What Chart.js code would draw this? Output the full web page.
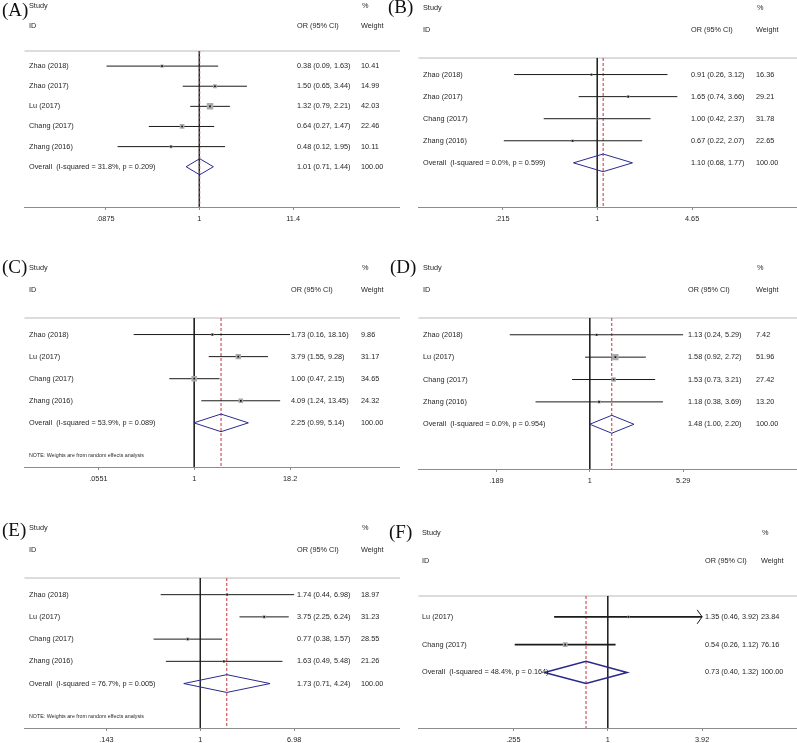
<!DOCTYPE html>
<html>
<head>
<meta charset="utf-8">
<script src="https://cdn.jsdelivr.net/npm/chart.js@4.4.0/dist/chart.umd.min.js"></script>
<style>
  body { margin: 0; background: #fff; width: 797px; height: 743px; position: relative; overflow: hidden; }
  canvas { position: absolute; }
</style>
</head>
<body>
<canvas id="panelA"></canvas>
<canvas id="panelB"></canvas>
<canvas id="panelC"></canvas>
<canvas id="panelD"></canvas>
<canvas id="panelE"></canvas>
<canvas id="panelF"></canvas>
<script>
// (A)
const studiesA = ['Zhao (2018)', 'Zhao (2017)', 'Lu (2017)', 'Chang (2017)', 'Zhang (2016)'];
const orA = [0.38, 1.50, 1.32, 0.64, 0.48];
const lowA = [0.09, 0.65, 0.79, 0.27, 0.12];
const highA = [1.63, 3.44, 2.21, 1.47, 1.95];
const weightA = [10.41, 14.99, 42.03, 22.46, 10.11];
const overallA = [1.01, 0.71, 1.44];   // OR, low, high
const hetA = [31.8, 0.209];            // I-squared, p
const ticksA = [0.0875, 1, 11.4];

// (B)
const studiesB = ['Zhao (2018)', 'Zhao (2017)', 'Chang (2017)', 'Zhang (2016)'];
const orB = [0.91, 1.65, 1.00, 0.67];
const lowB = [0.26, 0.74, 0.42, 0.22];
const highB = [3.12, 3.66, 2.37, 2.07];
const weightB = [16.36, 29.21, 31.78, 22.65];
const overallB = [1.10, 0.68, 1.77];
const hetB = [0.0, 0.599];
const ticksB = [0.215, 1, 4.65];

// (C)
const studiesC = ['Zhao (2018)', 'Lu (2017)', 'Chang (2017)', 'Zhang (2016)'];
const orC = [1.73, 3.79, 1.00, 4.09];
const lowC = [0.16, 1.55, 0.47, 1.24];
const highC = [18.16, 9.28, 2.15, 13.45];
const weightC = [9.86, 31.17, 34.65, 24.32];
const overallC = [2.25, 0.99, 5.14];
const hetC = [53.9, 0.089];
const ticksC = [0.0551, 1, 18.2];

// (D)
const studiesD = ['Zhao (2018)', 'Lu (2017)', 'Chang (2017)', 'Zhang (2016)'];
const orD = [1.13, 1.58, 1.53, 1.18];
const lowD = [0.24, 0.92, 0.73, 0.38];
const highD = [5.29, 2.72, 3.21, 3.69];
const weightD = [7.42, 51.96, 27.42, 13.20];
const overallD = [1.48, 1.00, 2.20];
const hetD = [0.0, 0.954];
const ticksD = [0.189, 1, 5.29];

// (E)
const studiesE = ['Zhao (2018)', 'Lu (2017)', 'Chang (2017)', 'Zhang (2016)'];
const orE = [1.74, 3.75, 0.77, 1.63];
const lowE = [0.44, 2.25, 0.38, 0.49];
const highE = [6.98, 6.24, 1.57, 5.48];
const weightE = [18.97, 31.23, 28.55, 21.26];
const overallE = [1.73, 0.71, 4.24];
const hetE = [76.7, 0.005];
const ticksE = [0.143, 1, 6.98];

// (F)
const studiesF = ['Lu (2017)', 'Chang (2017)'];
const orF = [1.35, 0.54];
const lowF = [0.46, 0.26];
const highF = [3.92, 1.12];
const weightF = [23.84, 76.16];
const overallF = [0.73, 0.40, 1.32];
const hetF = [48.4, 0.164];
const ticksF = [0.255, 1, 3.92];
const arrowF = [true, false];          // CI runs past the axis range

const NOTE = 'NOTE: Weights are from random effects analysis';

const panels = [
  { id: 'A', studies: studiesA, or: orA, low: lowA, high: highA, weight: weightA, overall: overallA, het: hetA, ticks: ticksA, note: false },
  { id: 'B', studies: studiesB, or: orB, low: lowB, high: highB, weight: weightB, overall: overallB, het: hetB, ticks: ticksB, note: false },
  { id: 'C', studies: studiesC, or: orC, low: lowC, high: highC, weight: weightC, overall: overallC, het: hetC, ticks: ticksC, note: true },
  { id: 'D', studies: studiesD, or: orD, low: lowD, high: highD, weight: weightD, overall: overallD, het: hetD, ticks: ticksD, note: false },
  { id: 'E', studies: studiesE, or: orE, low: lowE, high: highE, weight: weightE, overall: overallE, het: hetE, ticks: ticksE, note: true },
  { id: 'F', studies: studiesF, or: orF, low: lowF, high: highF, weight: weightF, overall: overallF, het: hetF, ticks: ticksF, note: false, arrow: arrowF }
];

// page positions (px): canvas origin, plot area [l, t, r, b], pixel of first/last tick, text columns
const layout = {
  A: { x: 0,   y: 0,   w: 400, area: [24, 51, 400, 207],   tickPx: [105, 293], nameX: 29,  orX: 297, wtX: 361, label: [2, 11],    lw: 1,   box: 1.0 },
  B: { x: 383, y: 0,   w: 414, area: [418, 58, 797, 207],  tickPx: [502, 692], nameX: 423, orX: 691, wtX: 756, label: [388, 8],   lw: 1,   box: 0.55 },
  C: { x: 0,   y: 250, w: 400, area: [24, 318, 400, 467],  tickPx: [98, 290],  nameX: 29,  orX: 291, wtX: 361, label: [2, 268],   lw: 1,   box: 0.95 },
  D: { x: 383, y: 250, w: 414, area: [418, 318, 797, 469], tickPx: [496, 683], nameX: 423, orX: 688, wtX: 756, label: [390, 268], lw: 1,   box: 0.85 },
  E: { x: 0,   y: 490, w: 400, area: [24, 578, 400, 728],  tickPx: [106, 294], nameX: 29,  orX: 297, wtX: 361, label: [2, 531],   lw: 1,   box: 0.6 },
  F: { x: 383, y: 490, w: 414, area: [418, 596, 797, 728], tickPx: [513, 702], nameX: 422, orX: 705, wtX: 761, label: [389, 533], lw: 1.6, box: 0.55 }
};

const SANS = '"Liberation Sans", Arial, sans-serif';
const SERIF = '"Liberation Serif", "Times New Roman", serif';
const AXIS_H = 22;
const f2 = v => v.toFixed(2);
const tickText = v => v < 1 ? String(v).replace(/^0/, '') : String(v);

function makePanel(p) {
  const L = layout[p.id];
  const n = p.studies.length;
  const rows = n + 1;
  const canvas = document.getElementById('panel' + p.id);
  canvas.width = L.w;
  canvas.height = L.area[3] - L.y + AXIS_H + 4;
  canvas.style.left = L.x + 'px';
  canvas.style.top = L.y + 'px';

  // log-scale limits so that the tick values land where the axis labels sit
  const lg0 = Math.log10(p.ticks[0]);
  const lg1 = Math.log10(p.ticks[p.ticks.length - 1]);
  const dpp = (lg1 - lg0) / (L.tickPx[1] - L.tickPx[0]);
  const xmin = Math.pow(10, lg0 - (L.tickPx[0] - L.area[0]) * dpp);
  const xmax = Math.pow(10, lg1 + (L.area[2] - L.tickPx[1]) * dpp);

  const pts = p.or.map((v, i) => ({ x: v, y: i + 1 }));
  const [ovOR, ovLo, ovHi] = p.overall;
  const datasets = [];
  datasets.push({ data: pts, pointStyle: 'rect', pointRadius: 1.2, backgroundColor: '#111', borderWidth: 0 });
  datasets.push({ data: pts, pointStyle: 'rect', pointRadius: p.weight.map(w => L.box * Math.sqrt(w) / Math.SQRT2),
                  backgroundColor: '#ababab', borderWidth: 0 });
  p.studies.forEach((s, i) => {
    datasets.push({ data: [{ x: p.low[i], y: i + 1 }, { x: p.high[i], y: i + 1 }], showLine: true,
                    borderColor: '#1a1a1a', borderWidth: L.lw, pointRadius: 0 });
  });
  datasets.push({
    data: [{ x: ovLo, y: rows }, { x: ovOR, y: rows - 0.4 }, { x: ovHi, y: rows }, { x: ovOR, y: rows + 0.4 }, { x: ovLo, y: rows }],
    showLine: true, borderColor: '#2a2a8e', borderWidth: L.lw, pointRadius: 0, tension: 0
  });
  datasets.push({ data: [{ x: ovOR, y: 0.25 }, { x: ovOR, y: rows + 2 }], showLine: true,
                  borderColor: '#c8323c', borderDash: [3, 2], borderWidth: 1, pointRadius: 0 });
  datasets.push({ data: [{ x: 1, y: 0.25 }, { x: 1, y: rows + 2 }], showLine: true,
                  borderColor: '#222', borderWidth: 1, pointRadius: 0 });

  const rel = v => v - L.x;

  new Chart(canvas, {
    type: 'scatter',
    data: { datasets },
    options: {
      responsive: false,
      animation: false,
      events: [],
      layout: {
        autoPadding: false,
        padding: {
          left: L.area[0] - L.x + 0.5,
          right: L.x + L.w - L.area[2] - 0.5,
          top: L.area[1] - L.y,
          bottom: 4
        }
      },
      plugins: { legend: { display: false }, tooltip: { enabled: false } },
      scales: {
        x: {
          type: 'logarithmic',
          min: xmin,
          max: xmax,
          afterBuildTicks: s => { s.ticks = p.ticks.map(v => ({ value: v })); },
          afterFit: s => { s.height = AXIS_H; },
          border: { display: true, color: '#8c8c8c', width: 1 },
          grid: { display: true, drawOnChartArea: false, drawTicks: true, tickLength: 3, color: '#8c8c8c' },
          ticks: { callback: v => tickText(v), font: { size: 7.3, family: SANS }, color: '#262626', padding: 5, maxRotation: 0, autoSkip: false }
        },
        y: { type: 'linear', reverse: true, min: 0.25, max: rows + 2, display: false }
      }
    },
    plugins: [{
      id: 'forestText',
      beforeDatasetsDraw(chart) {
        const { ctx, chartArea: a } = chart;
        ctx.save();
        ctx.strokeStyle = '#dcdcdc';
        ctx.lineWidth = 2;
        ctx.beginPath();
        ctx.moveTo(a.left, a.top);
        ctx.lineTo(a.right, a.top);
        ctx.stroke();
        ctx.restore();
      },
      afterDraw(chart) {
        const { ctx } = chart;
        const xs = chart.scales.x, ys = chart.scales.y;
        ctx.save();
        ctx.fillStyle = '#262626';
        ctx.textBaseline = 'middle';
        ctx.textAlign = 'left';
        ctx.font = '7.3px ' + SANS;
        const nx = rel(L.nameX), ox = rel(L.orX), wx = rel(L.wtX);
        ctx.fillText('Study', nx, ys.getPixelForValue(-2));
        ctx.fillText('%', wx + 1, ys.getPixelForValue(-2));
        ctx.fillText('ID', nx, ys.getPixelForValue(-1));
        ctx.fillText('OR (95% CI)', ox, ys.getPixelForValue(-1));
        ctx.fillText('Weight', wx, ys.getPixelForValue(-1));
        p.studies.forEach((s, i) => {
          const py = ys.getPixelForValue(i + 1);
          ctx.fillText(s, nx, py);
          ctx.fillText(`${f2(p.or[i])} (${f2(p.low[i])}, ${f2(p.high[i])})`, ox, py);
          ctx.fillText(f2(p.weight[i]), wx, py);
        });
        const oy = ys.getPixelForValue(rows);
        ctx.fillText(`Overall  (I-squared = ${p.het[0].toFixed(1)}%, p = ${p.het[1].toFixed(3)})`, nx, oy);
        ctx.fillText(`${f2(ovOR)} (${f2(ovLo)}, ${f2(ovHi)})`, ox, oy);
        ctx.fillText('100.00', wx, oy);
        if (p.note) {
          ctx.font = '5.3px ' + SANS;
          ctx.fillText(NOTE, nx, ys.getPixelForValue(rows + 1.5));
        }
        if (p.arrow) {
          ctx.strokeStyle = '#1a1a1a';
          ctx.lineWidth = 1;
          p.arrow.forEach((on, i) => {
            if (!on) return;
            const px = xs.getPixelForValue(p.high[i]), py = ys.getPixelForValue(i + 1);
            ctx.beginPath();
            ctx.moveTo(px - 5, py - 7);
            ctx.lineTo(px, py);
            ctx.lineTo(px - 5, py + 7);
            ctx.stroke();
          });
        }
        ctx.font = '19px ' + SERIF;
        ctx.fillStyle = '#111';
        ctx.fillText('(' + p.id + ')', rel(L.label[0]), L.label[1] - L.y);
        ctx.restore();
      }
    }]
  });
}

panels.forEach(makePanel);
</script>
</body>
</html>
